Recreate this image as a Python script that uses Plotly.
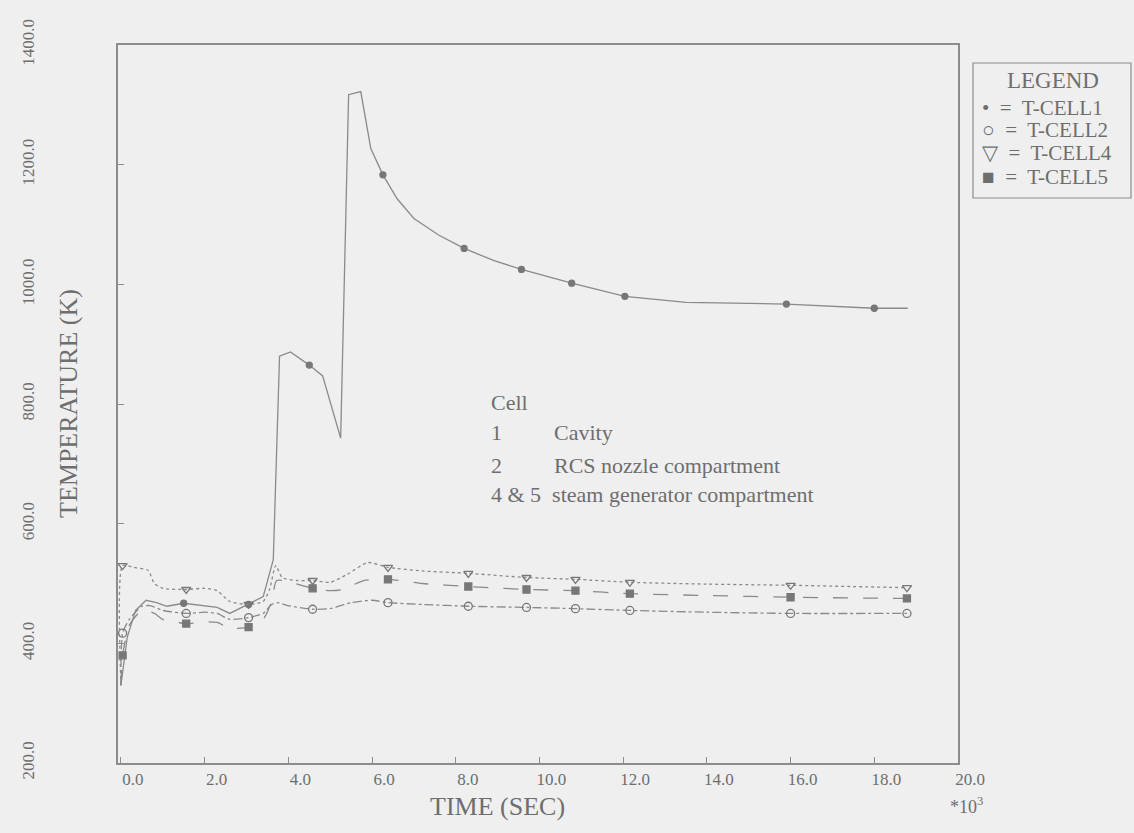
import plotly.graph_objects as go

# Time axis is in units of 10^3 s
x_ticks = [0, 2, 4, 6, 8, 10, 12, 14, 16, 18, 20]
x_tick_text = ["0.0", "2.0", "4.0", "6.0", "8.0", "10.0", "12.0", "14.0", "16.0", "18.0", "20.0"]
y_ticks = [200, 400, 600, 800, 1000, 1200, 1400]
y_tick_text = ["200.0", "400.0", "600.0", "800.0", "1000.0", "1200.0", "1400.0"]

# Cell 1 - cavity
cell1_t = [0, 0.15, 0.35, 0.6, 0.85, 1.1, 1.5, 2.0, 2.3, 2.6, 3.05, 3.4, 3.64, 3.79, 4.05,
           4.5, 4.82, 5.25, 5.44, 5.73, 5.97, 6.26, 6.6, 7.0, 7.6, 8.2, 8.9, 9.57, 10.77,
           12.04, 13.5, 15.9, 18.0, 18.8]
cell1_T = [330, 410, 455, 472, 468, 462, 467, 463, 460, 450, 465, 478, 540, 880, 887,
           865, 847, 743, 1317, 1322, 1227, 1183, 1143, 1110, 1082, 1060, 1040, 1025, 1002,
           980, 970, 967, 960, 960]
cell1_marks = [1.5, 3.05, 4.5, 6.26, 8.2, 9.57, 10.77, 12.04, 15.9, 18.0]

# Cell 2 - RCS nozzle compartment
cell2_t = [0, 0.04, 0.2, 0.5, 0.7, 1.0, 1.56, 2.0, 2.3, 2.6, 3.05, 3.4, 3.6, 3.75, 4.0, 4.58,
           5.0, 5.5, 6.0, 6.38, 7.2, 8.3, 9.69, 10.86, 12.16, 14.0, 16.0, 18.78]
cell2_T = [330, 417, 440, 462, 463, 455, 450, 452, 450, 440, 443, 450, 465, 468, 463, 457,
           458, 468, 472, 468, 465, 462, 460, 458, 455, 452, 450, 450]

# Cell 4 - steam generator compartment
cell4_t = [0, 0.04, 0.3, 0.65, 0.8, 1.0, 1.56, 2.0, 2.3, 2.6, 3.05, 3.4, 3.55, 3.7, 3.85, 4.2,
           4.58, 5.0, 5.4, 5.9, 6.38, 7.2, 8.3, 9.69, 10.86, 12.16, 14.0, 16.0, 18.78]
cell4_T = [330, 530, 527, 522, 500, 492, 490, 492, 488, 470, 465, 470, 490, 530, 510, 505,
           505, 502, 515, 535, 527, 521, 517, 510, 507, 502, 499, 497, 493]

# Cell 5 - steam generator compartment
cell5_t = [0, 0.04, 0.2, 0.5, 0.8, 1.0, 1.56, 2.0, 2.3, 2.6, 3.05, 3.4, 3.6, 3.72, 4.0, 4.58,
           5.0, 5.3, 5.8, 6.38, 7.2, 8.3, 9.69, 10.86, 12.16, 14.0, 16.0, 18.78]
cell5_T = [330, 380, 430, 455, 450, 440, 433, 436, 435, 425, 427, 440, 470, 505, 503, 492,
           488, 490, 505, 507, 500, 495, 490, 488, 483, 480, 477, 475]

low_marks = [0.04, 1.56, 3.05, 4.58, 6.38, 8.3, 9.69, 10.86, 12.16, 16.0, 18.78]

INK = "#6e6e6e"
LINE = "#8a8a8a"
BG = "#efefef"
FONT = "Liberation Serif"

series = [
    ("T-CELL1", cell1_t, cell1_T, cell1_marks, "solid", "linear", "circle", 6),
    ("T-CELL2", cell2_t, cell2_T, low_marks, "dashdot", "spline", "circle-open", 8),
    ("T-CELL4", cell4_t, cell4_T, low_marks, "dot", "spline", "triangle-down-open", 8),
    ("T-CELL5", cell5_t, cell5_T, low_marks, "longdash", "spline", "square", 7),
]

fig = go.Figure()
for name, ts, temps, marks, dash, shape, symbol, msize in series:
    fig.add_trace(go.Scatter(
        x=ts, y=temps, mode="lines", name=name, showlegend=False,
        line=dict(color=LINE, width=1.3, dash=dash, shape=shape, smoothing=0.6),
    ))
    lookup = dict(zip(ts, temps))
    fig.add_trace(go.Scatter(
        x=marks, y=[lookup[m] for m in marks], mode="markers", name=name, showlegend=False,
        marker=dict(symbol=symbol, size=msize, color="#777777",
                    line=dict(color="#777777", width=1.3)),
    ))

# plot area in pixels
L, R, T, B = 118, 958, 45, 763
W, H = 1134, 833


def px(xp):
    return (xp - L) / (R - L)


def py(yp):
    return (B - yp) / (B - T)


def note(x, y, text, size, xref="paper", yref="paper", xanchor="center", angle=0):
    return dict(x=x, y=y, xref=xref, yref=yref, text=text, showarrow=False,
                xanchor=xanchor, yanchor="middle", textangle=angle,
                font=dict(size=size, color=INK, family=FONT))


annotations = []
# cell description block
desc_rows = [("Cell", "", 803), ("1", "Cavity", 752), ("2", "RCS nozzle compartment", 698)]
for left, right, yv in desc_rows:
    annotations.append(note(8.79, yv, left, 22, "x", "y", "left"))
    if right:
        annotations.append(note(10.3, yv, right, 22, "x", "y", "left"))
annotations.append(note(8.79, 648, "4 &amp; 5\u00a0 steam generator compartment", 22, "x", "y", "left"))

# axis titles
annotations.append(note(9.0, py(806), "TIME (SEC)", 26, "x", "paper"))
annotations.append(note(px(68), 0.5, "TEMPERATURE (K)", 26, angle=-90))
annotations.append(note(px(966), py(805), "*10<sup>3</sup>", 18))

# legend block
annotations.append(note(px(1053), py(80), "LEGEND", 23))
legend_rows = [("•", "T-CELL1", 108), ("○", "T-CELL2", 130), ("▽", "T-CELL4", 153), ("■", "T-CELL5", 177)]
for sym, label, yp in legend_rows:
    annotations.append(note(px(980), py(yp), f"{sym}\u00a0 =\u00a0 {label}", 21, xanchor="left"))

shapes = [dict(type="rect", xref="paper", yref="paper", x0=px(973), x1=px(1131),
               y0=py(198), y1=py(63), line=dict(color="#8c8c8c", width=1.2))]

fig.update_layout(
    width=W, height=H,
    margin=dict(l=L, r=W - R, t=T, b=H - B),
    paper_bgcolor=BG, plot_bgcolor=BG,
    font=dict(family=FONT, color=INK),
    annotations=annotations, shapes=shapes,
    xaxis=dict(range=[-0.07, 20.0], tickvals=x_ticks, ticktext=x_tick_text,
               showgrid=False, zeroline=False, showline=True, linecolor="#8c8c8c",
               linewidth=1.5, mirror=True, ticks="inside", ticklen=6, tickcolor="#8c8c8c",
               tickfont=dict(size=17, color=INK, family=FONT), ticklabelshift=12),
    yaxis=dict(range=[200, 1400], tickvals=y_ticks, ticktext=y_tick_text,
               showgrid=False, zeroline=False, showline=True, linecolor="#8c8c8c",
               linewidth=1.5, mirror=True, ticks="inside", ticklen=6, tickcolor="#8c8c8c",
               tickangle=-90, ticklabelstandoff=75,
               tickfont=dict(size=17, color=INK, family=FONT)),
)

fig.write_html("out.html")
